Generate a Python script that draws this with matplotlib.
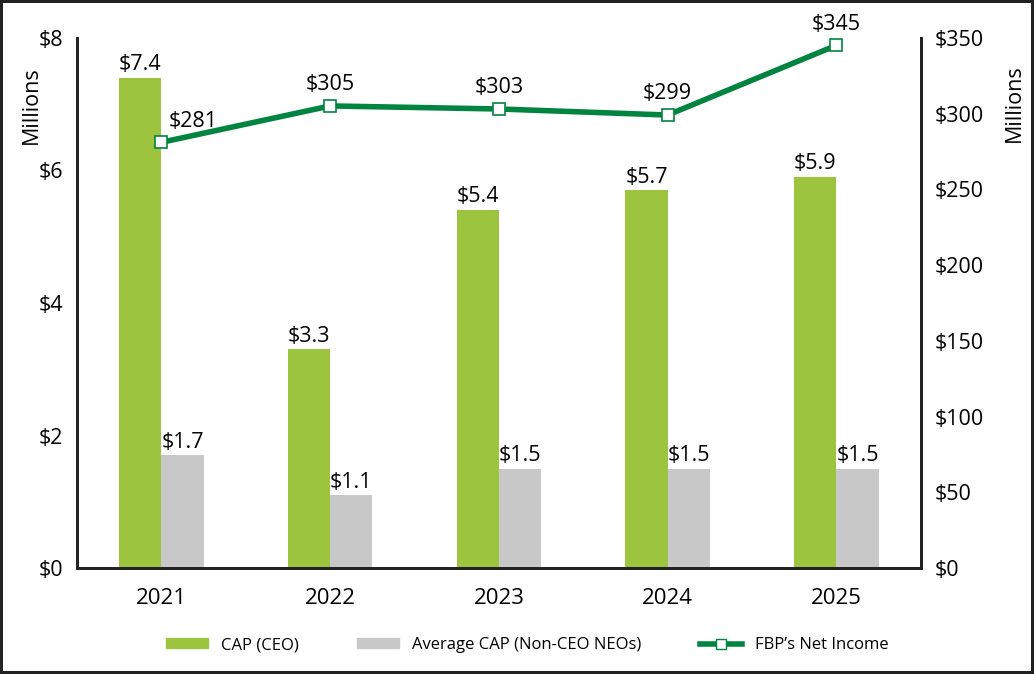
import matplotlib.pyplot as plt
import numpy as np
from matplotlib.lines import Line2D
from matplotlib.patches import Patch

plt.rcParams['font.family'] = ['Open Sans', 'DejaVu Sans']

years = ["2021", "2022", "2023", "2024", "2025"]
cap_ceo = [7.4, 3.3, 5.4, 5.7, 5.9]
cap_neo = [1.7, 1.1, 1.5, 1.5, 1.5]
net_income = [281, 305, 303, 299, 345]

green = "#9dc43f"
gray = "#c8c8c8"
dkgreen = "#00843f"

fig = plt.figure(figsize=(10.34, 6.74), dpi=100)
fig.patch.set_edgecolor("#222222")
fig.patch.set_linewidth(3)
ax = fig.add_axes([0.0745, 0.157, 0.816, 0.787])
ax2 = ax.twinx()

x = np.arange(len(years))
w = 0.25
ax.bar(x - w / 2, cap_ceo, w, color=green, zorder=2)
ax.bar(x + w / 2, cap_neo, w, color=gray, zorder=2)
for i in range(len(years)):
    ax.text(x[i] - w / 2, cap_ceo[i] + 0.04, "$" + str(cap_ceo[i]), ha="center", va="bottom", fontsize=15.5)
    ax.text(x[i] + w / 2, cap_neo[i] + 0.04, "$" + str(cap_neo[i]), ha="center", va="bottom", fontsize=15.5)

ax2.plot(x, net_income, color=dkgreen, lw=4, marker="s", ms=9, mfc="white", mec=dkgreen, mew=1.2, zorder=3)
for i in range(len(years)):
    if i == 0:
        ax2.text(x[i] + 0.04, net_income[i] + 7, "$" + str(net_income[i]), ha="left", va="bottom", fontsize=15.5)
    else:
        ax2.text(x[i], net_income[i] + 7, "$" + str(net_income[i]), ha="center", va="bottom", fontsize=15.5)

ax.set_xlim(-0.5, 4.5)
ax.set_ylim(0, 8)
ax2.set_ylim(0, 350)
ax.set_yticks(range(0, 9, 2))
ax.set_yticklabels(["$" + str(v) for v in range(0, 9, 2)])
ax2.set_yticks(range(0, 351, 50))
ax2.set_yticklabels(["$" + str(v) for v in range(0, 351, 50)])
ax.set_xticks(x)
ax.set_xticklabels(years)

for a in (ax, ax2):
    a.spines["top"].set_visible(False)
    for s in ("left", "right", "bottom"):
        a.spines[s].set_linewidth(2)
        a.spines[s].set_color("#222222")
    a.tick_params(length=0, labelsize=15.5, pad=10)
ax.tick_params(axis="x", pad=14, labelsize=16)

ax.set_ylabel("Millions", fontsize=15.5)
ax.yaxis.set_label_coords(-0.042, 0.873)
ax2.set_ylabel("Millions", fontsize=15.5, rotation=90)
ax2.yaxis.set_label_coords(1.099, 0.877)

handles = [Patch(color=green, label="CAP (CEO)"),
           Patch(color=gray, label="Average CAP (Non-CEO NEOs)"),
           Line2D([0], [0], color=dkgreen, lw=4, marker="s", ms=7, mfc="white", mec=dkgreen, label="FBP\u2019s Net Income")]
fig.legend(handles=handles, loc="center", bbox_to_anchor=(0.51, 0.043), ncol=3, frameon=False,
           fontsize=12, handlelength=2.5, columnspacing=3.5, handleheight=0.5)

fig.savefig("out.png", dpi=100, edgecolor=fig.get_edgecolor())
